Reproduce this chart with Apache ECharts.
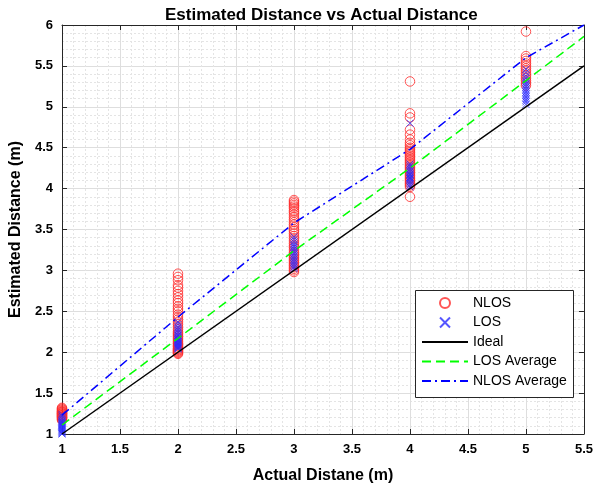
<!DOCTYPE html>
<html>
<head>
<meta charset="utf-8">
<script src="https://cdn.jsdelivr.net/npm/echarts@6/dist/echarts.min.js"></script>
<style>
html,body{margin:0;padding:0;background:#fff;}
#chart{width:596px;height:489px;}
</style>
</head>
<body>
<div id="chart"></div>
<script>
// ---- data ----
const xPositions = [1, 2, 3, 4, 5];
const nlosAt1 = [1.17,1.18,1.19,1.2,1.21,1.21,1.22,1.23,1.23,1.24,1.25,1.25,1.26,1.27,1.27,1.28,1.29,1.3,1.31,1.32];
const nlosAt2 = [1.98,1.99,2.0,2.01,2.02,2.03,2.04,2.05,2.07,2.08,2.1,2.11,2.13,2.15,2.17,2.19,2.21,2.23,2.25,2.28,2.31,2.34,2.37,2.4,2.43,2.46,2.5,2.53,2.56,2.6,2.63,2.67,2.71,2.75,2.79,2.82,2.88,2.92,2.96];
const nlosAt3 = [2.98,3.0,3.02,3.04,3.06,3.08,3.1,3.12,3.14,3.16,3.18,3.2,3.22,3.25,3.28,3.3,3.33,3.36,3.39,3.42,3.45,3.48,3.5,3.53,3.56,3.59,3.62,3.65,3.68,3.71,3.73,3.76,3.78,3.8,3.82,3.84,3.86];
const nlosAt4 = [3.9,4.02,4.04,4.06,4.08,4.1,4.12,4.14,4.16,4.18,4.2,4.22,4.24,4.26,4.28,4.3,4.32,4.34,4.36,4.38,4.4,4.42,4.44,4.46,4.48,4.5,4.53,4.56,4.6,4.66,4.72,4.87,4.92,5.31];
const nlosAt5 = [5.26,5.29,5.32,5.35,5.38,5.41,5.44,5.47,5.5,5.53,5.56,5.59,5.62,5.92];
const losAt1 = [1.0,1.01,1.02,1.03,1.04,1.05,1.06,1.07,1.08,1.09,1.1,1.11,1.12,1.13,1.14,1.15,1.16,1.18,1.2,1.22,1.24];
const losAt2 = [2.04,2.05,2.06,2.07,2.08,2.09,2.1,2.11,2.12,2.13,2.14,2.15,2.16,2.17,2.18,2.2,2.21,2.23,2.25,2.27,2.29,2.31,2.34,2.37];
const losAt3 = [3.02,3.04,3.06,3.08,3.1,3.12,3.14,3.16,3.18,3.2,3.22,3.24,3.26,3.28,3.3,3.32,3.35,3.38,3.41];
const losAt4 = [4.02,4.04,4.06,4.08,4.1,4.12,4.13,4.14,4.16,4.17,4.18,4.2,4.22,4.24,4.26,4.28,4.3,4.8];
const losAt5 = [5.03,5.06,5.08,5.1,5.12,5.14,5.16,5.18,5.2,5.22,5.24,5.26,5.28,5.3,5.32,5.35,5.38,5.42,5.46];

const idealX = [1, 5.5];
const idealY = [1, 5.5];
const avgX = [1, 2, 3, 4, 5, 5.5];
const losAvgY = [1.11, 2.17, 3.24, 4.25, 5.32, 5.86];
const nlosAvgY = [1.23, 2.43, 3.58, 4.48, 5.6, 6.0];

const xTickLabels = ['1','1.5','2','2.5','3','3.5','4','4.5','5','5.5'];
const yTickLabels = ['1','1.5','2','2.5','3','3.5','4','4.5','5','5.5','6'];

// ---- build ----
const nlosGroups = [nlosAt1, nlosAt2, nlosAt3, nlosAt4, nlosAt5];
const losGroups = [losAt1, losAt2, losAt3, losAt4, losAt5];
function pairs(groups) {
  const out = [];
  groups.forEach((g, i) => g.forEach(v => out.push([xPositions[i], v])));
  return out;
}
function zip(xs, ys) { return xs.map((x, i) => [x, ys[i]]); }

const FONT = 'Liberation Sans, Arial, sans-serif';
const AX = '#262626';

function mainAxis(pos, min, max, labels, name, nameGap) {
  return {
    type: 'value', position: pos, min: min, max: max, interval: 0.5,
    name: name, nameLocation: 'middle', nameGap: nameGap,
    nameTextStyle: {fontFamily: FONT, fontWeight: 'bold', fontSize: 16, color: '#000'},
    axisLine: {show: true, lineStyle: {color: AX, width: 1}},
    axisTick: {show: true, inside: true, length: 5, lineStyle: {color: AX}},
    axisLabel: {
      show: true, margin: 9, fontFamily: FONT, fontWeight: 'bold', fontSize: 13, color: '#000',
      formatter: function (v) { const i = Math.round((v - min) / 0.5); return labels[i]; }
    },
    splitLine: {show: true, lineStyle: {color: '#dedede', width: 1}},
    minorTick: {show: false, splitNumber: 5},
    minorSplitLine: {show: true, lineStyle: {color: '#e4e4e4', width: 1, type: [2, 2]}}
  };
}
function mirrorAxis(pos, min, max) {
  return {
    type: 'value', position: pos, min: min, max: max, interval: 0.5,
    axisLine: {show: true, lineStyle: {color: AX, width: 1}},
    axisTick: {show: true, inside: true, length: 5, lineStyle: {color: AX}},
    axisLabel: {show: false},
    splitLine: {show: false}
  };
}

const chart = echarts.init(document.getElementById('chart'), null, {renderer: 'canvas'});
chart.setOption({
  backgroundColor: '#ffffff',
  animation: false,
  title: {
    text: 'Estimated Distance vs Actual Distance',
    left: 160, top: 2,
    textStyle: {fontFamily: FONT, fontWeight: 'bold', fontSize: 17, color: '#000'}
  },
  grid: {left: 62, right: 12, top: 25, bottom: 55, containLabel: false},
  xAxis: [
    mainAxis('bottom', 1, 5.5, xTickLabels, 'Actual Distane (m)', 34),
    mirrorAxis('top', 1, 5.5)
  ],
  yAxis: [
    mainAxis('left', 1, 6, yTickLabels, 'Estimated Distance (m)', 27),
    mirrorAxis('right', 1, 6)
  ],
  graphic: [{
    type: 'rect', z: 3, silent: true,
    shape: {x: 415.5, y: 290.5, width: 158, height: 107},
    style: {fill: '#ffffff', stroke: '#262626', lineWidth: 1}
  }],
  legend: {
    z: 5, orient: 'vertical', left: 421, top: 296, padding: 0,
    itemWidth: 46, itemHeight: 10, itemGap: 5.5,
    textStyle: {fontFamily: FONT, fontSize: 14, color: '#000'},
    data: [
      {name: 'NLOS'},
      {name: 'LOS'},
      {name: 'Ideal', itemStyle: {opacity: 0}},
      {name: 'LOS Average', itemStyle: {opacity: 0}},
      {name: 'NLOS Average', itemStyle: {opacity: 0}}
    ]
  },
  series: [
    {
      name: 'NLOS', type: 'scatter', xAxisIndex: 0, yAxisIndex: 0,
      symbol: 'circle', symbolSize: 9.5,
      itemStyle: {color: 'rgba(0,0,0,0)', borderColor: '#ff2a2a', borderWidth: 1},
      data: pairs(nlosGroups)
    },
    {
      name: 'LOS', type: 'scatter', xAxisIndex: 0, yAxisIndex: 0,
      symbol: 'path://M0,0L10,10M10,0L0,10', symbolSize: 7, symbolKeepAspect: true,
      itemStyle: {color: 'rgba(0,0,0,0)', borderColor: '#2a2aff', borderWidth: 1},
      data: pairs(losGroups)
    },
    {
      name: 'Ideal', type: 'line', xAxisIndex: 0, yAxisIndex: 0,
      symbol: 'none', lineStyle: {color: '#000000', width: 1.5},
      itemStyle: {color: '#000000'},
      data: zip(idealX, idealY)
    },
    {
      name: 'LOS Average', type: 'line', xAxisIndex: 0, yAxisIndex: 0,
      symbol: 'none', lineStyle: {color: '#00ff00', width: 1.5, type: [9, 5]},
      itemStyle: {color: '#00ff00'},
      data: zip(avgX, losAvgY)
    },
    {
      name: 'NLOS Average', type: 'line', xAxisIndex: 0, yAxisIndex: 0,
      symbol: 'none', lineStyle: {color: '#0000ff', width: 1.5, type: [9, 4, 2, 4]},
      itemStyle: {color: '#0000ff'},
      data: zip(avgX, nlosAvgY)
    }
  ]
});
</script>
</body>
</html>
